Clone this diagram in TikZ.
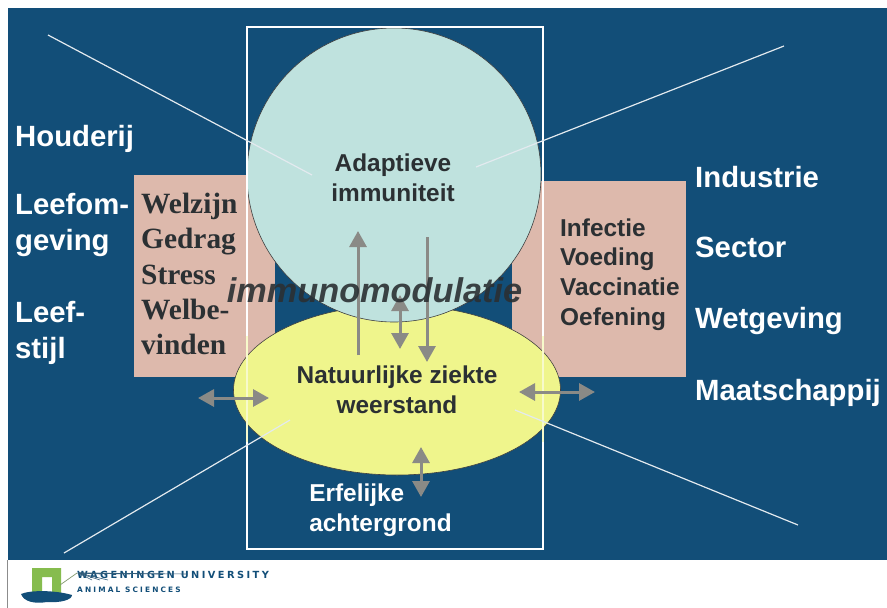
\documentclass[tikz,border=0pt]{standalone}
\usepackage{fontspec}
\setmainfont{Liberation Sans}
\newfontfamily\serifbold{Liberation Serif}[BoldFont={Liberation Serif Bold}]
\newfontfamily\widefonta{DejaVu Sans}[LetterSpace=25]
\newfontfamily\widefontb{DejaVu Sans}[LetterSpace=29]
\usetikzlibrary{arrows.meta,shapes.geometric}
\definecolor{bgblue}{HTML}{124E78}
\definecolor{rosebox}{HTML}{DDB9AC}
\definecolor{circblue}{HTML}{BFE2DE}
\definecolor{ellyellow}{HTML}{EFF58C}
\definecolor{arrowgray}{HTML}{8A8A86}
\definecolor{inktext}{HTML}{2B3033}
\definecolor{archgreen}{HTML}{86BC4E}
\tikzset{
  sidetext/.style={font=\fontsize{29.3}{30}\selectfont\bfseries,text=white,inner sep=0pt,anchor=base west,align=left},
  innertext/.style={font=\fontsize{24.4}{30}\selectfont\bfseries,text=inktext,inner sep=0pt,align=center},
  serifitem/.style={font=\serifbold\fontsize{29.4}{35.3}\selectfont\bfseries,text=inktext,inner sep=0pt,align=left,anchor=north west},
  sansitem/.style={font=\fontsize{24.4}{29.6}\selectfont\bfseries,text=inktext,inner sep=0pt,align=left,anchor=north west},
  crossline/.style={draw=white!88!bgblue,line width=1.2pt},
  grayarrow/.style={draw=arrowgray,line width=3pt,-{Triangle[length=16pt,width=17pt]}},
  graydouble/.style={draw=arrowgray,line width=3pt,{Triangle[length=16pt,width=17pt]}-{Triangle[length=16pt,width=17pt]}},
}
\begin{document}
\begin{tikzpicture}[x=1pt,y=-1pt]
\useasboundingbox (0,0) rectangle (887,608);
\fill[white] (0,0) rectangle (887,608);
\fill[bgblue] (8,8) rectangle (887,560);
\draw[black!45,line width=.6pt] (7,560) -- (7,608);
% rose panels
\fill[rosebox] (134,175) rectangle (275,377);
\fill[rosebox] (512,181) rectangle (686,377);
% ellipse and circle
\node[draw=black!75,line width=.6pt,fill=ellyellow,ellipse,minimum width=327pt,minimum height=170pt,inner sep=0pt] (natural) at (397,390) {};
\node[draw=black!75,line width=.6pt,fill=circblue,circle,minimum size=294pt,inner sep=0pt] (adaptive) at (394,175) {};
% white frame
\node[draw=white,line width=2.4pt,minimum width=296pt,minimum height=522pt,inner sep=0pt] (frame) at (395,288) {};
\fill[ellyellow!60!white,opacity=.75] (246,336) rectangle (248.4,442);
\fill[ellyellow!60!white,opacity=.75] (541.6,336) rectangle (544,442);
% cross lines
\coordinate (tl) at (48,35); \coordinate (tli) at (312,175);
\coordinate (tr) at (784,46); \coordinate (tri) at (476,167);
\coordinate (bl) at (64,553); \coordinate (bli) at (290,420);
\coordinate (br) at (798,525); \coordinate (bri) at (515,410);
\draw[crossline] (tl) -- (tli);
\draw[crossline] (tr) -- (tri);
\draw[crossline] (bl) -- (bli);
\draw[crossline] (br) -- (bri);
% side labels
\node[sidetext] (houderij) at (15,146) {Houderij};
\node[sidetext] (leefom) at (15,214) {Leefom-};
\node[sidetext] (geving) at (15,250) {geving};
\node[sidetext] (leef) at (15,322) {Leef-};
\node[sidetext] (stijl) at (15,358) {stijl};
\node[sidetext] (industrie) at (695,187) {Industrie};
\node[sidetext] (sector) at (695,257) {Sector};
\node[sidetext] (wetgeving) at (695,328) {Wetgeving};
\node[sidetext] (maatschappij) at (695,400) {Maatschappij};
% panel texts
\node[serifitem] (welzijn) at (141,193) {Welzijn\\Gedrag\\Stress\\Welbe-\\vinden};
\node[sansitem] (infectie) at (560,218.5) {Infectie\\Voeding\\Vaccinatie\\Oefening};
% circle, ellipse, bottom labels
\node[innertext] (adaptext) at (393,178) {Adaptieve\\immuniteit};
\node[innertext] (nattext) at (397,390) {Natuurlijke ziekte\\weerstand};
\node[innertext,text=white,align=left] (erf) at (380.5,510) {Erfelijke\\achtergrond};
% arrows
\coordinate (a1s) at (358,355); \coordinate (a1e) at (358,231);
\coordinate (a2s) at (427,237); \coordinate (a2e) at (427,362);
\coordinate (a3s) at (400,295); \coordinate (a3e) at (400,349);
\coordinate (a4s) at (198,398); \coordinate (a4e) at (269,398);
\coordinate (a5s) at (519,392); \coordinate (a5e) at (595,392);
\coordinate (a6s) at (421,447); \coordinate (a6e) at (421,497);
\draw[grayarrow] (a1s) -- (a1e);
\draw[grayarrow] (a2s) -- (a2e);
\draw[graydouble] (a3s) -- (a3e);
\draw[graydouble] (a4s) -- (a4e);
\draw[graydouble] (a5s) -- (a5e);
\draw[graydouble] (a6s) -- (a6e);
% overlay word
\node[font=\fontsize{34.3}{36}\selectfont\bfseries\itshape,text=inktext,inner sep=0pt,opacity=.9] (immuno) at (374.5,290) {immunomodulatie};
% logo
\fill[archgreen,even odd rule] (32,568) rectangle (61,593) (42,577) rectangle (52,593);
\fill[bgblue] (21,594) .. controls (30,590) and (55,590) .. (72,595) .. controls (72,600) and (60,603) .. (47,602) .. controls (35,604) and (24,602) .. (21,594) -- cycle;
\node[font=\widefonta\fontsize{9.8}{10}\selectfont\bfseries,text=bgblue,inner sep=0pt,anchor=west] (wur) at (77,575) {WAGENINGEN UNIVERSITY};
\node[font=\widefontb\fontsize{7.4}{8}\selectfont\bfseries,text=bgblue,inner sep=0pt,anchor=west] (asci) at (77,589.5) {ANIMAL SCIENCES};
\coordinate (lg) at (60,585);
\draw[archgreen!40!gray,line width=.7pt] (lg) -- (77,573);
\foreach \xx in {100,130,160,187}{\draw[bgblue!70!gray,line width=.6pt] (78,573) -- (\xx,574);}
\foreach \xx in {92,100,108}{\draw[bgblue!70!gray,line width=.6pt] (78,573) -- (\xx,580);}
\end{tikzpicture}
\end{document}
